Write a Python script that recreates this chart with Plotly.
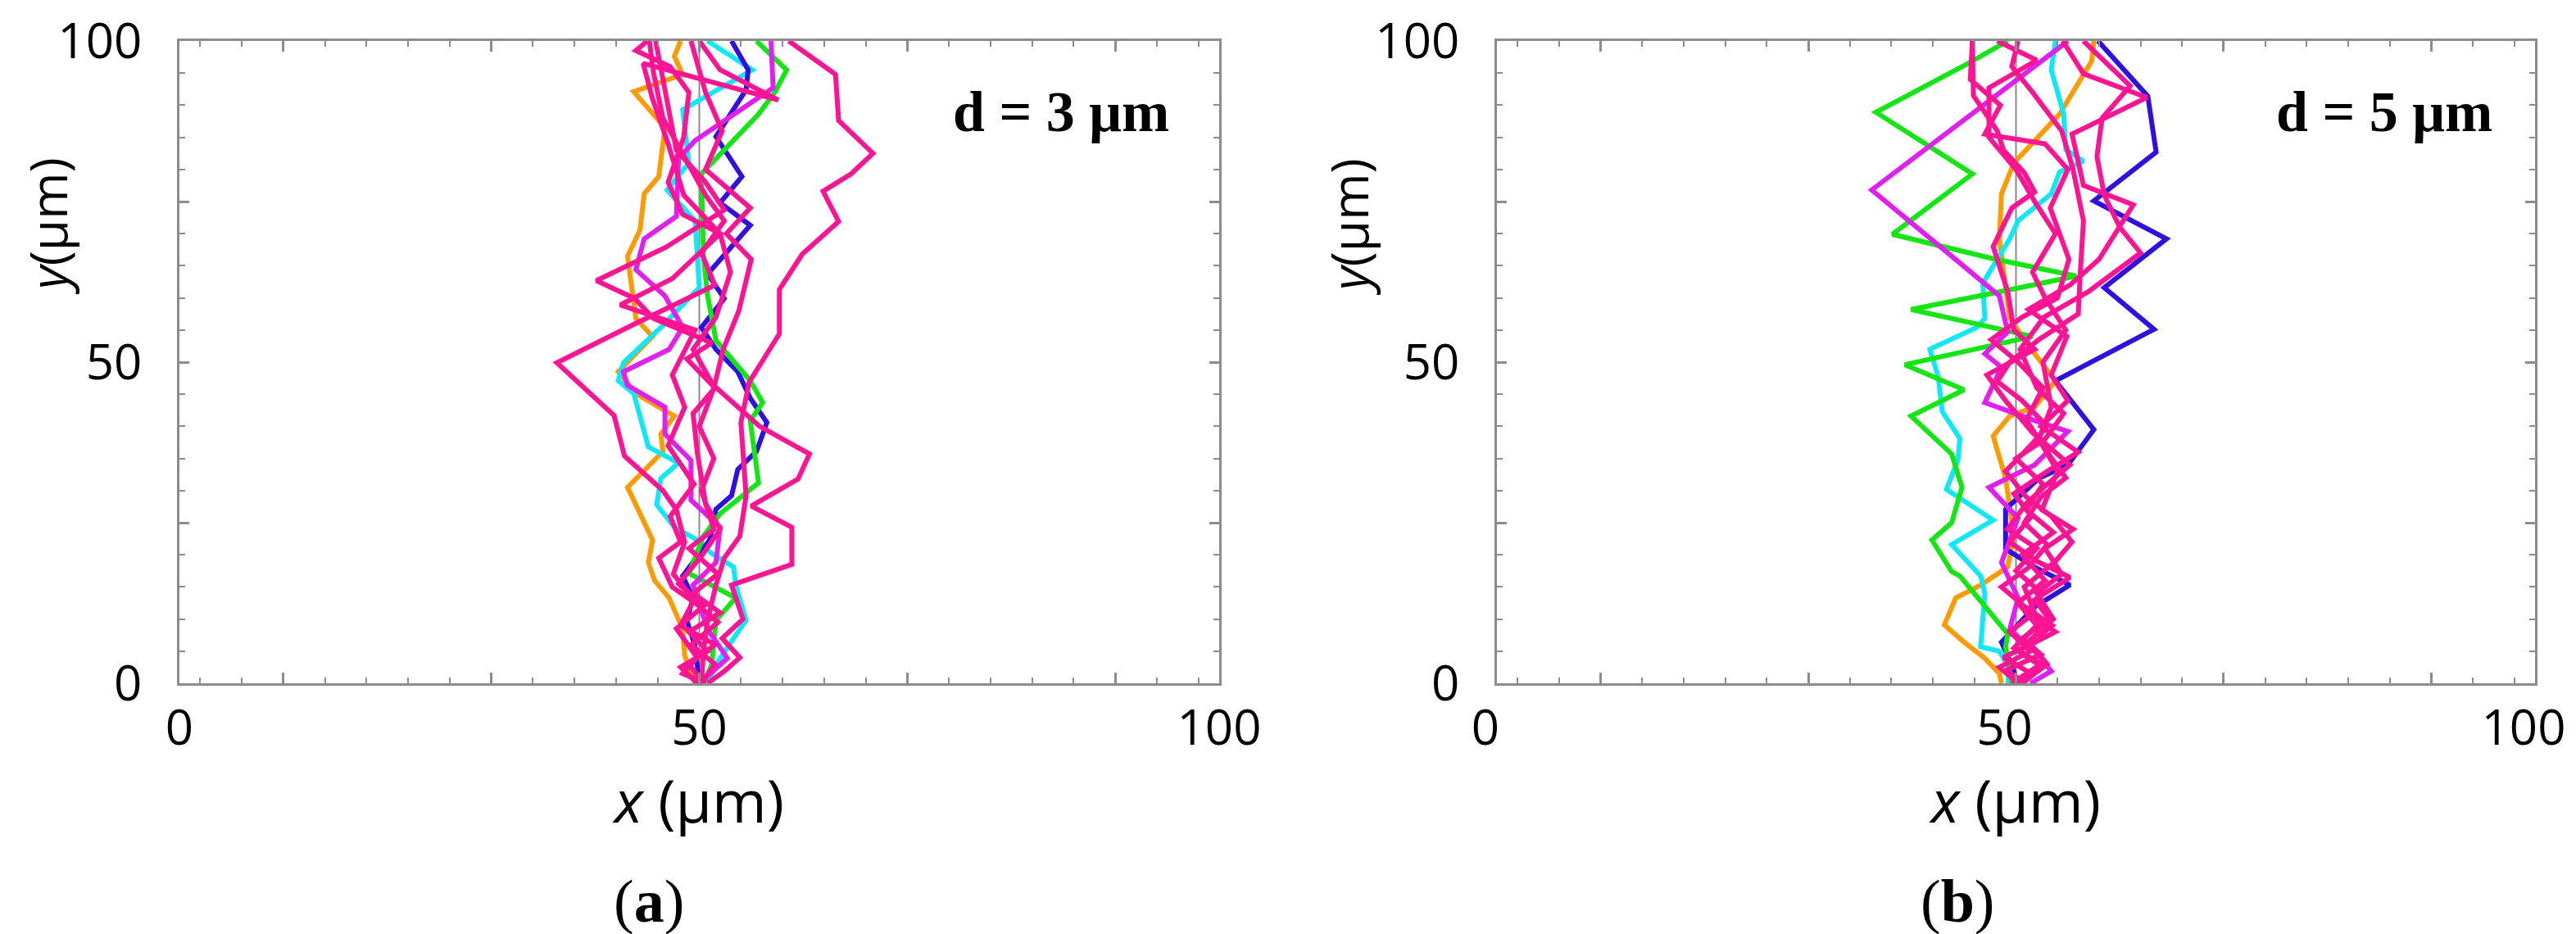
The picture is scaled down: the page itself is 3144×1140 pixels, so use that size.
import plotly.graph_objects as go

# ---------------- data (µm) ----------------
# Panel (a): d = 3 µm
A_ORANGE_X = [49.6, 48.6, 48.4, 47.1, 45.7, 45.1, 45.5, 44.3, 43.1, 46.5, 46.3, 47.6, 43.9, 42.2, 45.5, 43.9, 43.5, 43.1, 44.3, 44.7, 46.1, 46.7, 43.7, 48.4, 47.6, 48.2]
A_ORANGE_Y = [0, 4.3, 8.4, 13.3, 16.0, 18.8, 22.3, 26.4, 30.5, 36.1, 38.8, 41.6, 45.1, 48.5, 54.0, 56.8, 61.6, 66.5, 70.6, 76.2, 78.9, 86.5, 92.1, 94.8, 97.6, 100]
A_CYAN_X = [50.8, 51.6, 53.3, 54.5, 53.5, 53.3, 51.2, 49.8, 47.6, 45.9, 46.3, 48.0, 45.1, 44.5, 43.7, 42.2, 42.7, 46.3, 50.0, 49.6, 46.9, 49.0, 48.4, 55.1, 50.8]
A_CYAN_Y = [0, 2.9, 7.0, 9.8, 15.3, 18.1, 20.2, 22.3, 24.3, 27.8, 31.9, 34.3, 36.8, 40.2, 45.1, 47.1, 49.9, 55.4, 61.6, 72.0, 76.8, 81.0, 89.3, 95.5, 100]
A_BLUE_X = [50.0, 49.6, 48.8, 49.4, 48.4, 51.0, 51.6, 53.1, 53.7, 55.5, 56.5, 54.9, 53.7, 51.6, 50.2, 52.4, 50.8, 54.9, 52.0, 54.1, 51.6, 54.5, 54.7, 53.1]
A_BLUE_Y = [0, 5.7, 9.8, 13.3, 16.7, 22.3, 27.1, 29.2, 33.3, 36.1, 40.6, 44.4, 48.5, 52.0, 55.4, 59.9, 63.7, 71.3, 74.8, 78.9, 85.1, 92.4, 95.5, 100]
A_GREEN_X = [50.4, 51.2, 51.6, 53.5, 49.0, 50.4, 52.0, 54.1, 55.7, 54.9, 56.1, 54.9, 51.6, 50.8, 50.4, 50.2, 53.3, 55.7, 57.3, 58.4, 55.5]
A_GREEN_Y = [0, 2.9, 9.8, 13.3, 17.1, 22.9, 26.4, 29.2, 31.2, 40.9, 43.7, 47.1, 53.4, 60.3, 66.5, 79.3, 84.5, 88.6, 92.1, 95.5, 100]
A_MAGENTA_X = [50.0, 52.7, 50.8, 49.4, 51.6, 52.0, 49.2, 49.2, 46.7, 46.7, 43.1, 42.7, 47.1, 48.4, 46.7, 43.9, 44.7, 47.8, 48.0, 49.6, 54.9, 57.1, 56.9]
A_MAGENTA_Y = [0, 3.9, 8.4, 15.3, 18.8, 24.3, 28.5, 34.7, 38.8, 43.0, 46.4, 48.5, 52.0, 55.4, 60.3, 64.4, 69.2, 72.7, 81.7, 84.5, 90.3, 92.7, 100]
A_PINK1_X = [50.2, 50.4, 50.8, 51.6, 52.4, 53.9, 54.5, 54.0, 54.8, 57.7, 57.7, 59.9, 63.4, 61.9, 64.6, 66.7, 63.4, 63.1, 58.6]
A_PINK1_Y = [0, 5.0, 9.8, 15.3, 19.5, 22.9, 29.2, 40.6, 46.9, 54.4, 61.3, 66.8, 71.9, 76.6, 79.3, 82.5, 87.6, 94.8, 100]
A_PINK2_X = [50.4, 49.0, 51.5, 48.2, 49.5, 47.5, 48.6, 47.8, 46.5, 42.8, 41.8, 36.3, 43.6, 49.0, 51.5, 50.2, 52.4, 50.6, 48.5, 46.5, 45.6, 45.2]
A_PINK2_Y = [0, 3, 6, 9, 13, 17, 22, 27, 30, 35.4, 41.7, 49.9, 55.8, 59.9, 62, 67, 72, 76, 82, 88, 95, 100]
A_PINK3_X = [50.6, 48.4, 49.8, 47.8, 50.4, 48.0, 50.3, 52.0, 50.6, 49.8, 49.4, 51.5, 48.8, 51.2, 45.6, 43.8, 40.1, 46.8, 52.4, 50.6, 47.8, 47.1, 46.5, 45.8]
A_PINK3_Y = [0, 1.5, 4, 8.5, 12, 15.5, 20, 24, 28, 36, 42, 46, 50.5, 53, 56.8, 59.9, 62.7, 67.9, 73.7, 78, 83, 89, 95, 100]
A_PINK4_X = [50.8, 52.5, 53.9, 52.2, 54.2, 53.1, 58.9, 58.9, 55.0, 59.5, 60.6, 55.8, 51.3, 49.4, 51.6, 53.0, 52.0, 48.5, 47.0, 45.5, 44.6, 57.6, 52.0, 50.0]
A_PINK4_Y = [0, 2, 4, 7, 10, 15.3, 18.5, 24.3, 27.6, 31.8, 35.7, 40, 46.5, 52, 57, 64, 70, 76, 84, 91, 96.5, 90.8, 95.5, 100]
A_PINK5_X = [49.8, 48.2, 50.8, 49.0, 52.0, 49.4, 51.8, 49.0, 51.4, 50.2, 51.4, 50.0, 51.4, 52.3, 53.8, 55.0, 52.6, 54.9, 50.6, 52.2, 50.6, 49.2]
A_PINK5_Y = [0, 2.5, 5, 8, 11, 14, 17, 21, 24, 30, 35, 40, 46, 52, 58, 66, 70, 74, 80, 86, 92, 100]
A_PINK6_X = [50.2, 51.5, 49.2, 51.8, 49.6, 47.4, 46.1, 48.2, 47.2, 49.5, 47.0, 48.6, 47.4, 49.6, 42.4, 47.4, 52.0, 48.4, 47.0, 48.5, 49.0, 47.2, 43.9, 45.0]
A_PINK6_Y = [0, 3, 6, 9.5, 12.5, 15, 19.5, 22, 26, 31, 37, 43, 48, 55, 58.9, 63, 70, 73, 78, 85, 92, 96, 98.5, 100]

# Panel (b): d = 5 µm
B_GREEN_X = [49.6, 49.0, 49.2, 44.6, 43.8, 41.9, 43.8, 44.8, 43.8, 39.9, 45.0, 39.3, 51.6, 39.9, 48.6, 55.8, 47.8, 38.1, 45.8, 36.5, 45.4, 49.2]
B_GREEN_Y = [0, 5.7, 7.7, 16.7, 17.4, 22.3, 25.0, 30.5, 35.7, 41.6, 45.7, 49.6, 54.0, 58.2, 61.0, 63.4, 66.1, 69.9, 79.3, 88.9, 96.5, 100]
B_MAGENTA_X = [51.4, 53.4, 51.8, 49.4, 50.2, 48.6, 50.2, 47.4, 51.8, 55.0, 51.8, 47.0, 48.6, 47.0, 49.2, 48.4, 43.8, 36.1, 55.0]
B_MAGENTA_Y = [0, 1.9, 5.0, 8.4, 13.3, 18.8, 25.7, 30.5, 34.0, 39.2, 40.9, 43.7, 49.2, 51.3, 54.7, 60.3, 66.5, 76.8, 100]
B_CYAN_X = [49.2, 49.4, 48.4, 46.6, 47.0, 46.6, 43.8, 47.8, 43.3, 44.4, 44.6, 42.9, 42.5, 41.7, 46.2, 47.0, 46.8, 49.4, 50.2, 53.4, 54.2, 56.5, 54.8, 54.6, 53.4, 53.8]
B_CYAN_Y = [0, 2.2, 5.0, 5.7, 14.0, 16.7, 21.6, 25.4, 30.2, 34.7, 38.1, 42.3, 47.8, 52.0, 55.4, 56.8, 62.3, 69.2, 72.0, 76.2, 79.6, 81.3, 83.1, 88.6, 95.5, 100]
B_ORANGE_X = [48.6, 48.4, 47.0, 45.0, 43.1, 44.2, 46.6, 49.2, 49.8, 49.0, 47.8, 49.4, 51.8, 53.8, 51.8, 49.4, 48.4, 48.6, 49.8, 54.2, 57.3, 57.5]
B_ORANGE_Y = [0, 1.5, 3.9, 6.4, 9.1, 13.3, 15.3, 18.1, 22.9, 31.9, 38.5, 41.6, 43.0, 47.1, 51.3, 56.8, 69.2, 76.2, 81.0, 88.6, 96.9, 100]
B_BLUE_X = [50.2, 49.4, 48.6, 51.8, 55.2, 51.8, 49.0, 49.0, 52.2, 55.0, 57.5, 53.8, 63.3, 58.5, 64.5, 57.5, 63.5, 62.7, 57.9]
B_BLUE_Y = [0, 3.6, 6.4, 11.9, 15.3, 18.1, 20.9, 27.1, 31.9, 34.0, 39.5, 47.1, 55.1, 61.6, 69.2, 75.1, 82.7, 91.4, 100]
B_PINK1_X = [50.4, 52.6, 50.2, 53.8, 51.0, 52.5, 50.0, 52.0, 49.2, 51.0, 53.0, 55.2, 51.6, 49.0, 47.2, 51.8, 49.8, 49.2, 47.8, 49.6, 51.8, 50.8, 48.8, 48.2, 45.9, 45.9, 45.8]
B_PINK1_Y = [0, 2.5, 5, 8, 11, 14, 17.5, 21, 24, 28, 31, 34, 39, 44, 48, 52, 55, 61, 68, 74, 76.5, 79.5, 83, 86, 91.5, 96, 100]
B_PINK2_X = [51.0, 49.0, 52.4, 50.6, 53.2, 51.8, 55.2, 52.0, 49.4, 51.5, 49.8, 53.0, 56.0, 52.4, 55.0, 53.4, 54.9, 51.2, 55.2, 58.0, 61.3, 56.5, 55.4, 62.6, 56.5, 54.5]
B_PINK2_Y = [0, 2, 4.5, 7, 10, 13, 16.5, 19, 22, 26, 29.5, 33, 36, 40, 44, 48, 54, 58.2, 62, 66, 74.5, 77.5, 85.5, 91.2, 94.9, 100]
B_PINK3_X = [50.0, 51.5, 48.8, 51.2, 53.5, 50.8, 48.6, 51.2, 53.0, 50.8, 52.4, 54.8, 53.0, 51.0, 52.6, 50.2, 47.6, 50.6, 54.0, 55.1, 53.3, 55.0, 52.8, 47.0, 48.5, 45.6, 45.8]
B_PINK3_Y = [0, 1.5, 4, 6, 9, 12, 15, 18, 21.6, 25, 29, 32, 36, 41, 46, 50, 53.5, 57, 60, 66, 74, 80, 84, 85.5, 90, 94, 100]
B_PINK4_X = [50.6, 53.0, 51.2, 53.6, 52.0, 54.4, 52.8, 55.5, 52.5, 54.0, 52.2, 53.4, 52.6, 54.8, 52.8, 51.6, 53.8, 51.8, 50.0, 47.4, 47.4, 52.0, 48.2]
B_PINK4_Y = [0, 3, 6.5, 10, 14, 17, 21, 24, 27, 33, 38, 43, 50, 55, 60, 64, 70, 75, 80, 85, 92.7, 97, 100]
B_PINK5_X = [49.6, 52.4, 49.8, 52.0, 50.2, 52.8, 50.6, 53.6, 51.0, 52.6, 50.0, 52.8, 54.6, 52.0, 50.4, 52.7, 57.0, 62.0, 60.0, 58.5, 57.8, 58.3, 61.0, 58.5, 56.5]
B_PINK5_Y = [0, 3, 5.5, 9, 12.5, 16, 20, 23.5, 27, 31, 35, 38, 42, 46, 52, 57, 61, 67, 71, 76, 82, 88, 93, 97, 100]
B_PINK6_X = [50.2, 48.4, 51.4, 49.4, 51.8, 50.8, 53.8, 55.4, 53.4, 51.0, 49.0, 51.4, 53.0, 50.6, 48.2, 49.4, 52.2, 56.0, 56.2, 56.5, 55.5, 54.4, 51.6, 49.6, 50.2]
B_PINK6_Y = [0, 2.5, 5, 8, 11, 15, 19, 22, 26, 29, 33, 37, 40, 44, 47, 50, 53.5, 57.5, 64, 72, 80, 86, 92, 96, 100]

X_TICKVALS = [0, 10, 30, 50, 70, 90, 100]
X_TICKTEXT = ["0", "", "", "50", "", "", "100"]
X_MINOR = [v for v in range(2, 100, 4) if v not in (10, 30, 50, 70, 90)]
Y_TICKVALS = [0, 25, 50, 75, 100]
Y_TICKTEXT = ["0", "", "50", "", "100"]
Y_MINOR = [v for v in range(5, 100, 5) if v % 25]
CENTER_X = 50
PANEL_LABELS = ["(<b>a</b>)", "(<b>b</b>)"]
D_LABELS = ["<b>d = 3 μm</b>", "<b>d = 5 μm</b>"]

ORANGE = "#FF9A00"
CYAN = "#10E8F8"
BLUE = "#3010E0"
GREEN = "#14E614"
MAGENTA = "#E020F0"
PINK = "#FF1493"

panel_a = [
    (A_ORANGE_X, A_ORANGE_Y, ORANGE), (A_CYAN_X, A_CYAN_Y, CYAN),
    (A_BLUE_X, A_BLUE_Y, BLUE), (A_GREEN_X, A_GREEN_Y, GREEN),
    (A_MAGENTA_X, A_MAGENTA_Y, MAGENTA),
    (A_PINK1_X, A_PINK1_Y, PINK), (A_PINK2_X, A_PINK2_Y, PINK),
    (A_PINK3_X, A_PINK3_Y, PINK), (A_PINK4_X, A_PINK4_Y, PINK),
    (A_PINK5_X, A_PINK5_Y, PINK), (A_PINK6_X, A_PINK6_Y, PINK),
]
panel_b = [
    (B_ORANGE_X, B_ORANGE_Y, ORANGE), (B_CYAN_X, B_CYAN_Y, CYAN),
    (B_BLUE_X, B_BLUE_Y, BLUE), (B_GREEN_X, B_GREEN_Y, GREEN),
    (B_MAGENTA_X, B_MAGENTA_Y, MAGENTA),
    (B_PINK1_X, B_PINK1_Y, PINK), (B_PINK2_X, B_PINK2_Y, PINK),
    (B_PINK3_X, B_PINK3_Y, PINK), (B_PINK4_X, B_PINK4_Y, PINK),
    (B_PINK5_X, B_PINK5_Y, PINK), (B_PINK6_X, B_PINK6_Y, PINK),
]

W, H = 3144, 1140
fig = go.Figure()

for i, panel in enumerate([panel_a, panel_b]):
    xa = "x" if i == 0 else "x2"
    ya = "y" if i == 0 else "y2"
    fig.add_trace(go.Scatter(x=[CENTER_X, CENTER_X], y=[0, 100], mode="lines",
                             line=dict(color="#8a8a8a", width=2), xaxis=xa, yaxis=ya,
                             showlegend=False, hoverinfo="skip"))
    for xs, ys, col in panel:
        fig.add_trace(go.Scatter(x=xs, y=ys, mode="lines",
                                 line=dict(color=col, width=6), xaxis=xa, yaxis=ya,
                                 showlegend=False))

AX_COL = "#8c8c8c"
TICK_FONT = dict(family="Open Sans", size=60, color="black")


def xaxis_cfg(domain, shift):
    return dict(domain=domain, range=[0, 100], showgrid=False, zeroline=False,
                showline=True, linecolor=AX_COL, linewidth=2.5, mirror="allticks",
                ticks="inside", ticklen=13, tickwidth=2.5, tickcolor=AX_COL,
                tickmode="array", tickvals=X_TICKVALS, ticktext=X_TICKTEXT,
                tickfont=TICK_FONT, ticklabelstandoff=0, ticklabeloverflow="allow",
                ticklabelshift=shift, automargin=False,
                minor=dict(tickmode="array", tickvals=X_MINOR, ticks="inside",
                           ticklen=7, tickwidth=2, tickcolor=AX_COL),
                title=dict(text="<i>x</i> (μm)", font=dict(family="Open Sans", size=72, color="black"),
                           standoff=14),
                fixedrange=True)


def yaxis_cfg(anchor):
    return dict(domain=[1 - 826 / H, 1 - 42 / H], range=[0, 100], anchor=anchor,
                showgrid=False, zeroline=False, showline=True, linecolor=AX_COL,
                linewidth=2.5, mirror="allticks", ticks="inside", ticklen=12,
                tickwidth=2.5, tickcolor=AX_COL, tickmode="array",
                tickvals=Y_TICKVALS, ticktext=Y_TICKTEXT, tickfont=TICK_FONT,
                ticklabelstandoff=31, ticklabeloverflow="allow", automargin=False,
                minor=dict(tickmode="array", tickvals=Y_MINOR, ticks="inside",
                           ticklen=7, tickwidth=2, tickcolor=AX_COL),
                fixedrange=True)


fig.update_layout(
    width=W, height=H, margin=dict(l=0, r=0, t=0, b=0, autoexpand=False),
    paper_bgcolor="white", plot_bgcolor="white",
    xaxis=dict(anchor="y", **xaxis_cfg([211 / W, 1480 / W], 0)),
    xaxis2=dict(anchor="y2", **xaxis_cfg([1819 / W, 3086 / W], -14)),
    yaxis=yaxis_cfg("x"),
    yaxis2=yaxis_cfg("x2"),
)

ann = []
# y-axis titles
for xc in (50, 1638):
    ann.append(dict(x=xc / W, y=1 - 268 / H, xref="paper", yref="paper",
                    text="<i>y</i>(μm)", textangle=-90, showarrow=False,
                    font=dict(family="Open Sans", size=62, color="black"),
                    xanchor="center", yanchor="middle"))
# d labels
for xc, t in zip((1287, 2902), D_LABELS):
    ann.append(dict(x=xc / W, y=1 - 128 / H, xref="paper", yref="paper", text=t,
                    showarrow=False, font=dict(family="Liberation Serif", size=70, color="black"),
                    xanchor="center", yanchor="middle"))
# panel labels
for xc, t in zip((784, 2381), PANEL_LABELS):
    ann.append(dict(x=xc / W, y=1 - 1092 / H, xref="paper", yref="paper", text=t,
                    showarrow=False, font=dict(family="Liberation Serif", size=74, color="black"),
                    xanchor="center", yanchor="middle"))
fig.update_layout(annotations=ann)

fig.write_html("out.html")
